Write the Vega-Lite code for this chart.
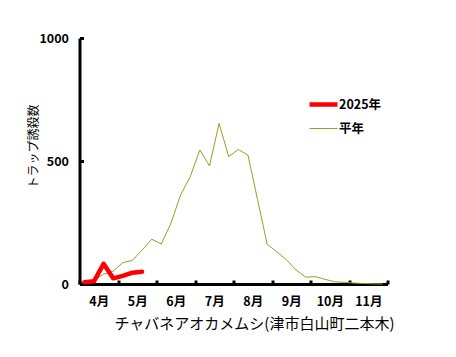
{
  "$schema": "https://vega.github.io/schema/vega-lite/v6.json",
  "autosize": "none",
  "width": 308,
  "height": 246,
  "padding": {"left": 79.5, "top": 38, "right": 68.5, "bottom": 73},
  "background": "white",
  "config": {
    "view": {"stroke": null},
    "font": "Noto Sans CJK JP",
    "axis": {"grid": false, "domainColor": "black", "domainWidth": 3, "tickColor": "black", "tickWidth": 3, "labelColor": "black", "titleColor": "black"}
  },
  "datasets": {
    "heinen": [
      {"k": 0, "v": 8}, {"k": 1, "v": 16}, {"k": 2, "v": 40}, {"k": 3, "v": 52},
      {"k": 4, "v": 87}, {"k": 5, "v": 96}, {"k": 6, "v": 138}, {"k": 7, "v": 182},
      {"k": 8, "v": 163}, {"k": 9, "v": 247}, {"k": 10, "v": 362}, {"k": 11, "v": 436},
      {"k": 12, "v": 545}, {"k": 13, "v": 480}, {"k": 14, "v": 653}, {"k": 15, "v": 518},
      {"k": 16, "v": 547}, {"k": 17, "v": 524}, {"k": 18, "v": 343}, {"k": 19, "v": 161},
      {"k": 20, "v": 131}, {"k": 21, "v": 98}, {"k": 22, "v": 57}, {"k": 23, "v": 28},
      {"k": 24, "v": 30}, {"k": 25, "v": 19}, {"k": 26, "v": 9}, {"k": 27, "v": 7},
      {"k": 28, "v": 4}, {"k": 29, "v": 2}, {"k": 30, "v": 1}, {"k": 31, "v": 0}
    ],
    "y2025": [
      {"k": 0, "v": 7}, {"k": 1, "v": 11}, {"k": 2, "v": 82}, {"k": 3, "v": 23},
      {"k": 4, "v": 33}, {"k": 5, "v": 46}, {"k": 6, "v": 50}
    ]
  },
  "layer": [
    {
      "data": {"name": "heinen"},
      "transform": [{"calculate": "'平年'", "as": "series"}, {"calculate": "datum.k + 0.5", "as": "x"}],
      "mark": {"type": "line"},
      "encoding": {
        "x": {"field": "x", "type": "quantitative", "scale": {"domain": [0, 32], "nice": false, "zero": false},
          "axis": {
            "values": [0, 4, 8, 12, 16, 20, 24, 28, 32],
            "tickCount": 40,
            "labelExpr": "datum.value < 32 ? (4 + datum.value / 4) + '月' : ''",
            "labelOffset": 19.25,
            "labelOverlap": false,
            "tickSize": -4, "labelPadding": 15, "labelFontSize": 12.5, "labelFontWeight": "bold", "labelFlush": false,
            "title": "チャバネアオカメムシ(津市白山町二本木)", "titleFontSize": 15, "titleFontWeight": "normal",
            "titleX": 174.5, "titleY": 39, "titleBaseline": "middle", "titleAlign": "center"
          }},
        "y": {"field": "v", "type": "quantitative", "scale": {"domain": [0, 1000], "nice": false},
          "axis": {"values": [0, 500, 1000], "format": "d", "tickSize": -4, "labelPadding": 15, "labelFontSize": 12.5, "labelFontWeight": "bold",
            "labelFlush": false,
            "title": "トラップ誘殺数", "titleFontSize": 12, "titleFontWeight": "normal", "titleX": -46, "titleY": 108, "titleBaseline": "middle", "titleAlign": "center", "titleAngle": -90}},
        "color": {"field": "series", "type": "nominal", "scale": {"domain": ["2025年", "平年"], "range": ["#ff0000", "#9c9c28"]},
          "legend": {"orient": "none", "legendX": 227.5, "legendY": 50, "title": null, "symbolType": "stroke", "symbolSize": 784,
            "labelFontSize": 12.5, "labelFontWeight": "bold", "labelOffset": -1, "rowPadding": 0}},
        "strokeWidth": {"field": "series", "type": "nominal", "scale": {"domain": ["2025年", "平年"], "range": [4.5, 1]}, "legend": null}
      }
    },
    {
      "data": {"name": "y2025"},
      "transform": [{"calculate": "'2025年'", "as": "series"}, {"calculate": "datum.k + 0.5", "as": "x"}],
      "mark": {"type": "line", "strokeCap": "round", "strokeJoin": "round"},
      "encoding": {
        "x": {"field": "x", "type": "quantitative"},
        "y": {"field": "v", "type": "quantitative"},
        "color": {"field": "series", "type": "nominal"},
        "strokeWidth": {"field": "series", "type": "nominal"}
      }
    }
  ]
}
